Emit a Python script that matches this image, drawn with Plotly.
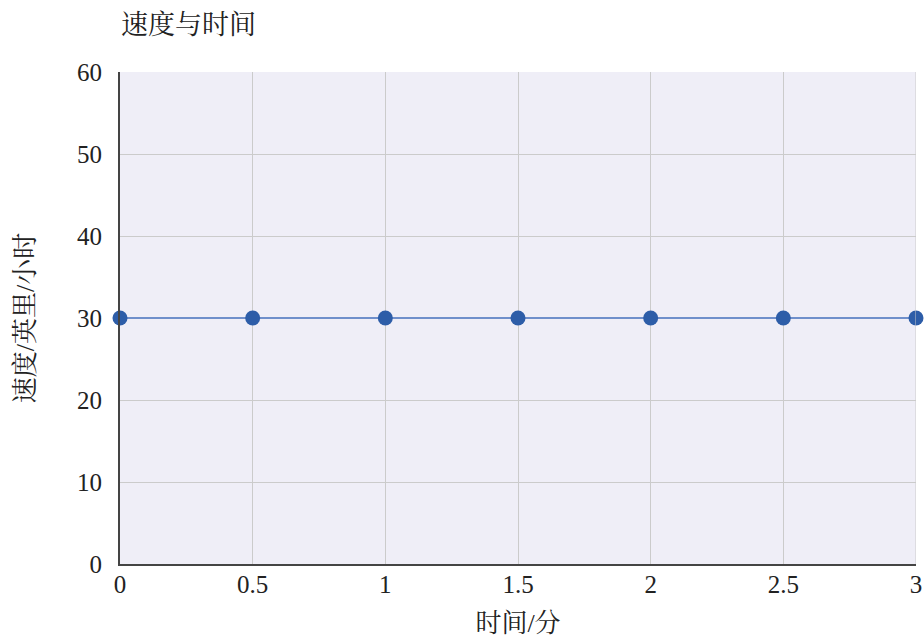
import plotly.graph_objects as go

time_min = [0, 0.5, 1, 1.5, 2, 2.5, 3]
speed_mph = [30, 30, 30, 30, 30, 30, 30]
x_ticks = [0, 0.5, 1, 1.5, 2, 2.5, 3]
x_tick_text = ["0", "0.5", "1", "1.5", "2", "2.5", "3"]
y_ticks = [0, 10, 20, 30, 40, 50, 60]

FONT = "Liberation Serif, Noto Serif CJK SC, Noto Sans CJK SC, serif"

fig = go.Figure()
fig.add_trace(go.Scatter(
    x=time_min, y=speed_mph, mode="lines+markers",
    line=dict(color="#6F8FCB", width=2),
    marker=dict(color="#2D5DA8", size=15),
    cliponaxis=False,
    showlegend=False,
))

fig.update_layout(
    width=924, height=638,
    margin=dict(l=120, r=8, t=72, b=74),
    paper_bgcolor="white",
    plot_bgcolor="#EFEEF7",
    font=dict(family=FONT, size=25, color="#222222"),
    title=dict(text="速度与时间", x=121/924, xanchor="left", y=1-25/638, yanchor="middle",
               font=dict(family=FONT, size=27, color="#222222")),
)
fig.update_xaxes(
    range=[0, 3], tickvals=x_ticks, ticktext=x_tick_text,
    showgrid=True, gridcolor="#CBCBCB", gridwidth=1,
    showline=True, linecolor="#444444", linewidth=2,
    zeroline=False, ticks="", ticklabelstandoff=-3,
    automargin=False,
    title=dict(text="时间/分", font=dict(family=FONT, size=26), standoff=21),
    mirror=False,
)
fig.update_yaxes(
    range=[0, 60], tickvals=y_ticks,
    showgrid=True, gridcolor="#CBCBCB", gridwidth=1,
    showline=True, linecolor="#444444", linewidth=2,
    zeroline=False, ticks="", ticklabelstandoff=11,
    automargin=False,
    title=dict(text="速度/英里/小时", font=dict(family=FONT, size=26), standoff=35),
)
# right border line
fig.add_shape(type="line", xref="x", yref="paper", x0=3, x1=3, y0=0, y1=1,
              line=dict(color="#CBCBCB", width=1))

fig.write_html("out.html", config={"displayModeBar": False},
               post_script="document.body.style.margin='0';")
